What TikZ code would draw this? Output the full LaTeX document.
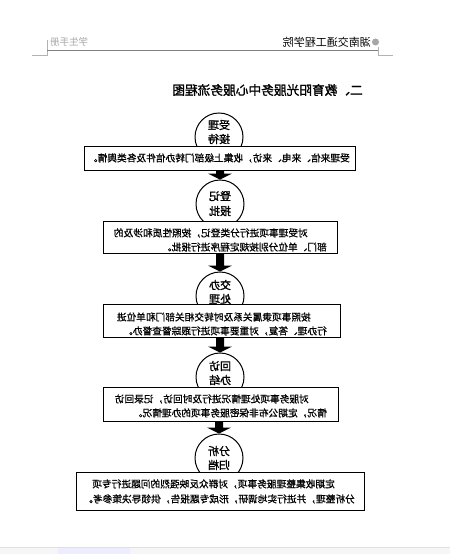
\documentclass[tikz,border=0pt]{standalone}
\usepackage{fontspec}
\usepackage{graphicx}
\newfontfamily\cjk{Noto Sans CJK SC}
\newfontfamily\cjkb[FakeBold=1.6]{Noto Sans CJK SC}
\newfontfamily\cjkm[FakeBold=0.8]{Noto Sans CJK SC}
\usetikzlibrary{calc}
\newcommand{\blockarrow}[2]{%
  \fill ($(#2.north |- #1.south)+(-4,0)$) -- ($(#2.north)+(-4,-6)$) -- ($(#2.north)+(-12,-6)$)
    -- (#2.north) -- ($(#2.north)+(12,-6)$) -- ($(#2.north)+(4,-6)$)
    -- ($(#2.north |- #1.south)+(4,0)$) -- cycle;}
\begin{document}
\begin{tikzpicture}[x=1pt,y=-1pt,
  stagecirc/.style={circle,draw,line width=1pt,minimum size=48pt,inner sep=0pt},
  stagebox/.style={draw,line width=1.1pt,fill=white,inner sep=0pt,anchor=north west},
  ctext/.style={font=\cjkb\fontsize{11}{11}\selectfont,inner sep=0pt},
  btext/.style={font=\cjkm\fontsize{9.7}{9.7}\selectfont,inner sep=0pt,anchor=east}]
\useasboundingbox (0,0) rectangle (450,554);
\fill[white] (0,0) rectangle (450,554);
% header
\draw[gray!60, line width=0.5pt] (32,55) -- (47,55) -- (47,40);
\draw[gray!60, line width=0.5pt] (393,55) -- (378,55) -- (378,47);
\draw[gray, line width=0.9pt] (47,50) -- (378,50);
\node[anchor=west, text=gray!70, font=\cjk\fontsize{9.5}{9.5}\selectfont, inner sep=0pt] (hl) at (50,42) {\reflectbox{学生手册}};
\node[anchor=east, font=\cjk\fontsize{11}{11}\selectfont, inner sep=0pt] (hr) at (371,42) {\reflectbox{湖南交通工程学院}};
\fill[gray!70] (375.5,42) circle (3.5);
% title
\node[font=\cjkb\fontsize{12.7}{12.7}\selectfont, anchor=east, inner sep=0pt] (title) at (363,90) {\reflectbox{二、教育阳光服务中心服务流程图}};
% circles
\node[stagecirc] (c1) at (219,137) {};
\node[stagecirc] (c2) at (220,204) {};
\node[stagecirc] (c3) at (220,296) {};
\node[stagecirc] (c4) at (220,377) {};
\node[stagecirc] (c5) at (219,458) {};
% boxes
\node[stagebox, minimum width=271pt, minimum height=24pt] (b1) at (84,146) {};
\node[stagebox, minimum width=234pt, minimum height=32pt] (b2) at (103,221) {};
\node[stagebox, minimum width=237pt, minimum height=33pt] (b3) at (103,304) {};
\node[stagebox, minimum width=235pt, minimum height=34pt] (b4) at (103,387) {};
\node[stagebox, minimum width=288pt, minimum height=38pt] (b5) at (76,472) {};
% circle texts
\node[ctext] (c1a) at (219,125) {\reflectbox{受理}};
\node[ctext] (c1b) at (219,139) {\reflectbox{接待}};
\node[ctext] (c2a) at (220,196) {\reflectbox{登记}};
\node[ctext] (c2b) at (220,211) {\reflectbox{报批}};
\node[ctext] (c3a) at (220,285) {\reflectbox{交办}};
\node[ctext] (c3b) at (220,299) {\reflectbox{处理}};
\node[ctext] (c4a) at (220,366) {\reflectbox{回访}};
\node[ctext] (c4b) at (220,380) {\reflectbox{办结}};
\node[ctext] (c5a) at (219,451) {\reflectbox{分析}};
\node[ctext] (c5b) at (219,465) {\reflectbox{归档}};
% box texts
\node[btext] (t1) at (350,158) {\reflectbox{受理来信、来电、来访，收集上级部门转办信件及各类舆情。}};
\node[btext] (t2a) at (308,233) {\reflectbox{对受理事项进行分类登记，按照性质和涉及的}};
\node[btext] (t2b) at (327,247) {\reflectbox{部门、单位分别按规定程序进行报批。}};
\node[btext] (t3a) at (311,317) {\reflectbox{按照事项隶属关系及时转交相关部门和单位进}};
\node[btext] (t3b) at (327,331) {\reflectbox{行办理、答复，对重要事项进行跟踪督查督办。}};
\node[btext] (t4a) at (309,399) {\reflectbox{对服务事项处理情况进行及时回访，记录回访}};
\node[btext] (t4b) at (327,413) {\reflectbox{情况，定期公布非保密服务事项的办理情况。}};
\node[btext] (t5a) at (335,484) {\reflectbox{定期收集整理服务事项，对群众反映强烈的问题进行专项}};
\node[btext] (t5b) at (355,499) {\reflectbox{分析整理，并进行实地调研，形成专题报告，供领导决策参考。}};
% arrows
\blockarrow{b1}{c2}
\blockarrow{b2}{c3}
\blockarrow{b3}{c4}
\blockarrow{b4}{c5}
% bottom strip
\fill[gray!7] (0,547) rectangle (450,554);
\draw[gray!25, line width=0.5pt] (0,547) -- (450,547);
\fill[blue!7] (58,548) rectangle (130,554);
\end{tikzpicture}
\end{document}
